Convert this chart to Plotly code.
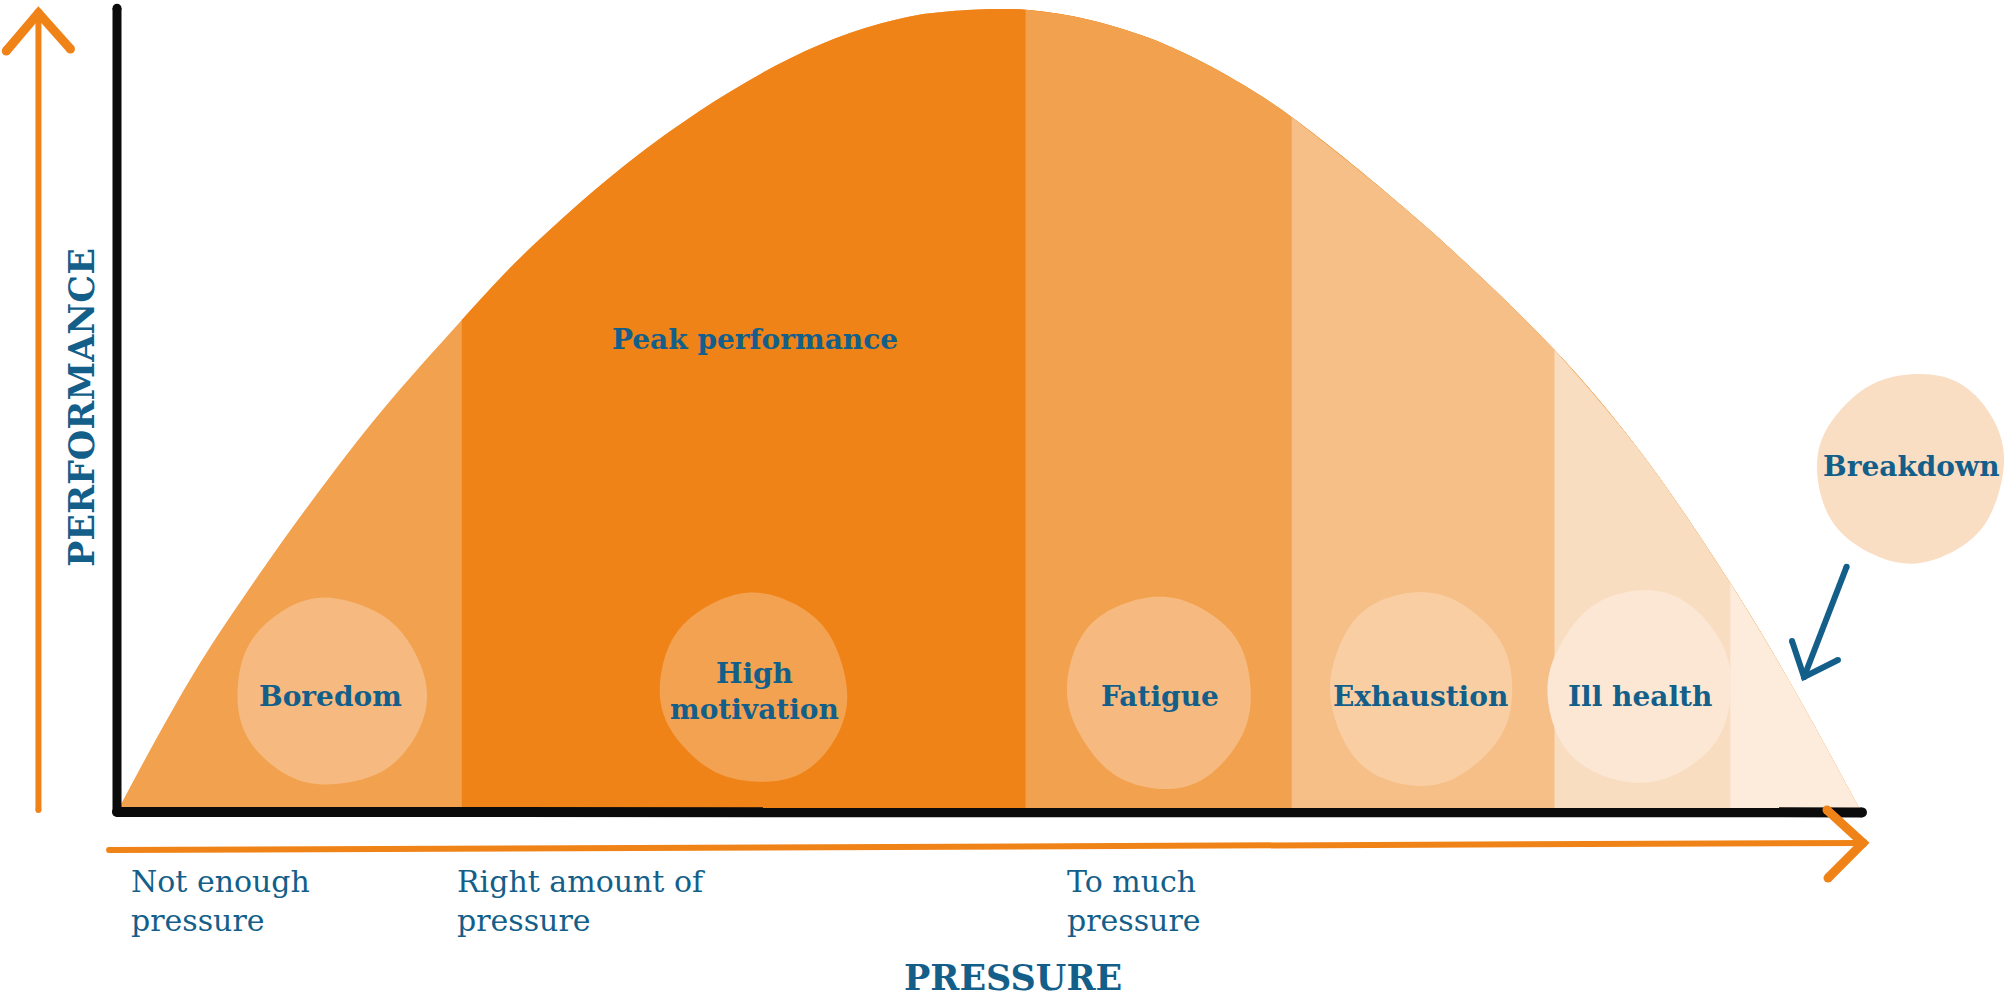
import numpy as np
import plotly.graph_objects as go

# ---------------- data ----------------
pressure = [0, 2.36, 4.66, 7.99, 11.55, 15.0, 19.7, 22.64, 25.35, 28.03, 31.67, 35.12,
            38.56, 42.01, 45.46, 47.76, 50.34, 52.1, 55.23, 58.68, 61.15, 64.43, 67.4,
            74.77, 82.5, 87.41, 92.6, 96.03, 100]
performance = [0, 9.51, 18.15, 29.04, 39.80, 49.44, 61.08, 67.96, 73.52, 78.6, 84.69, 89.65,
               93.82, 97.0, 99.06, 99.71, 100, 99.91, 98.91, 96.77, 94.55, 90.73, 86.45,
               73.39, 57.32, 44.64, 28.16, 15.74, 0]
zone_edges = [0, 19.7, 52.1, 67.4, 82.5, 92.6, 100]
stage_labels = ["Boredom", "High<br>motivation", "Fatigue", "Exhaustion", "Ill health", "Breakdown"]
zone_title = "Peak performance"
pressure_labels = ["Not enough<br>pressure", "Right amount of<br>pressure", "To much<br>pressure"]
x_title = "PRESSURE"
y_title = "PERFORMANCE"

# ---------------- styles / layout ----------------
zone_colors = ["#F2A14F", "#F08317", "#F2A24F", "#F6BF87", "#F9DDC0", "#FDEBDB"]
blob_colors = ["#F6B97F", "#F3A252", "#F6B97F", "#F9CEA3", "#FCE7D4", "#F9DEC4"]
blob_pos = [(12.18, 14.5), (36.5, 15.0), (59.8, 14.5), (74.8, 14.9), (87.4, 15.1), (103.0, 42.55)]
label_pos = [(12.18, 13.9), (36.5, 14.6), (59.8, 13.9), (74.8, 13.9), (87.4, 13.9), (103.0, 42.7)]
pressure_label_x = [0.6, 19.31, 54.37]
BLUE = "#135F8A"
ORANGE = "#F08317"
BLACK = "#0B0B0B"
FONT = "DejaVu Serif"

W, H = 2010, 1002
SX, SY = 17.4, 7.99          # px per data unit
X0PX, Y0PX = 119, 808        # pixel of data origin
xr = [-X0PX / SX, (W - X0PX) / SX]
yr = [(Y0PX - H) / SY, Y0PX / SY]

fig = go.Figure()

# zone bands under the curve: each band is painted from its left edge to the end,
# the later (right) ones on top, so the curve outline stays one smooth spline
p = np.array(pressure)
v = np.array(performance)
for i in range(len(zone_edges) - 1):
    a = zone_edges[i]
    m = p >= a - 1e-9
    fig.add_trace(go.Scatter(x=p[m], y=v[m], fill="tozeroy", fillcolor=zone_colors[i],
                             mode="lines", line=dict(width=0, color=zone_colors[i],
                                                     shape="spline", smoothing=1.0),
                             hoverinfo="skip", showlegend=False))


def stroke(xs, ys, color, width):
    fig.add_trace(go.Scatter(x=xs, y=ys, mode="lines+markers",
                             line=dict(color=color, width=width),
                             marker=dict(color=color, size=width, line=dict(width=0)),
                             hoverinfo="skip", showlegend=False))


# black hand drawn axes
stroke([-0.115, -0.115], [100.1, -0.5], BLACK, 9)
stroke([-0.115, 100.17], [-0.5, -0.55], BLACK, 10)

# orange arrows
stroke([-4.63, -4.63], [-0.25, 99.5], ORANGE, 6)
stroke([-6.48, -4.63, -2.79], [94.74, 99.5, 94.99], ORANGE, 9)
stroke([-0.57, 100.23], [-5.26, -4.38], ORANGE, 6)
stroke([98.16, 100.23, 98.22], [-0.25, -4.38, -8.76], ORANGE, 9)

# blue arrow to breakdown
stroke([99.29, 96.84], [30.2, 16.4], BLUE, 6)
stroke([96.15, 96.84, 98.79], [20.9, 16.4, 18.52], BLUE, 6)


def blob_path(cx, cy, rx, ry, ph):
    t = np.linspace(0, 2 * np.pi, 120, endpoint=False)
    r = 1 + 0.02 * np.cos(2 * t + ph) + 0.012 * np.cos(3 * t + 2 * ph) + 0.006 * np.cos(7 * t + ph)
    xs = cx + rx * r * np.cos(t) / SX
    ys = cy + ry * r * np.sin(t) / SY
    pts = " L".join(f"{x:.3f},{y:.3f}" for x, y in zip(xs, ys))
    return "M" + pts + " Z"


shapes = []
for k, (cx, cy) in enumerate(blob_pos):
    shapes.append(dict(type="path", xref="x", yref="y", layer="above",
                       path=blob_path(cx, cy, 93, 95, 0.9 * k + 0.4),
                       fillcolor=blob_colors[k], line=dict(width=0)))

ann = []
for k, lab in enumerate(stage_labels):
    ann.append(dict(x=label_pos[k][0], y=label_pos[k][1], xref="x", yref="y", text=lab,
                    showarrow=False, align="center",
                    font=dict(family=FONT, size=28, color=BLUE, weight=700)))
ann.append(dict(x=36.55, y=58.6, xref="x", yref="y", text=zone_title, showarrow=False,
                font=dict(family=FONT, size=28, color=BLUE, weight=700)))
for k, lab in enumerate(pressure_labels):
    ann.append(dict(x=pressure_label_x[k], y=-11.64, xref="x", yref="y", text=lab,
                    showarrow=False, align="left", xanchor="left", yanchor="middle",
                    font=dict(family=FONT, size=30, color=BLUE)))
ann.append(dict(x=51.38, y=-21.2, xref="x", yref="y", text=x_title, showarrow=False,
                font=dict(family=FONT, size=35, color=BLUE, weight=700)))
ann.append(dict(x=-2.18, y=50.06, xref="x", yref="y", text=y_title, showarrow=False,
                textangle=-90, font=dict(family=FONT, size=35, color=BLUE, weight=700)))

fig.update_layout(
    width=W, height=H, autosize=False,
    margin=dict(l=0, r=0, t=0, b=0, pad=0),
    paper_bgcolor="white", plot_bgcolor="white",
    xaxis=dict(range=xr, visible=False, fixedrange=True),
    yaxis=dict(range=yr, visible=False, fixedrange=True),
    shapes=shapes, annotations=ann, showlegend=False,
)

fig.write_html("out.html", config={"displayModeBar": False},
               post_script="document.body.style.margin='0';document.body.style.overflow='hidden';")
